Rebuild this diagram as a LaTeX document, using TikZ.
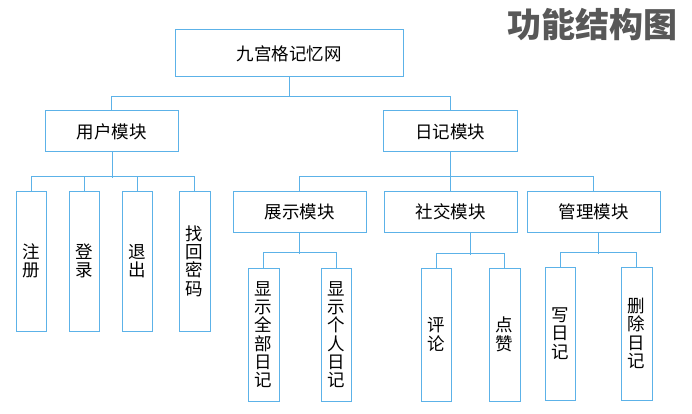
\documentclass[tikz,border=0pt]{standalone}
\usepackage{fontspec}
\setmainfont{Noto Sans CJK SC}
\usetikzlibrary{calc}
\definecolor{lineblue}{RGB}{92,178,232}
\definecolor{titlegray}{RGB}{88,88,88}
\tikzset{
  box/.style={draw=lineblue, line width=1pt, inner sep=0pt, anchor=center,
    font=\fontsize{17.5}{18.3}\selectfont, text=black},
  leaf/.style={box, align=center, text width=18pt},
  conn/.style={draw=lineblue, line width=1pt},
}
\begin{document}
\begin{tikzpicture}[x=1pt,y=-1pt]
\useasboundingbox (0,0) rectangle (692,414);
% title
\node[font=\fontsize{34}{36}\selectfont\bfseries, text=titlegray, anchor=center] (title) at (592,25) {功能结构图};
% root
\node[box, minimum width=228pt, minimum height=47pt] (root) at (289,53.5) {九宫格记忆网};
% level 2
\node[box, minimum width=133pt, minimum height=41pt] (user) at (111.5,131.5) {用户模块};
\node[box, minimum width=134pt, minimum height=41pt] (diary) at (450,131.5) {日记模块};
% user leaves
\node[leaf, minimum width=30pt, minimum height=140pt] (zc) at (31,261) {注\\册};
\node[leaf, minimum width=30pt, minimum height=140pt] (dl) at (84,261) {登\\录};
\node[leaf, minimum width=30pt, minimum height=140pt] (tc) at (137.5,261) {退\\出};
\node[leaf, minimum width=31pt, minimum height=140pt] (zh) at (194.5,261) {找\\回\\密\\码};
% diary sub-modules
\node[box, minimum width=133pt, minimum height=41pt] (show) at (299.5,211.5) {展示模块};
\node[box, minimum width=133pt, minimum height=41pt] (social) at (450.5,211.5) {社交模块};
\node[box, minimum width=133pt, minimum height=41pt] (manage) at (593.5,211.5) {管理模块};
% show leaves
\node[leaf, minimum width=31pt, minimum height=133pt] (qb) at (263.5,334.5) {显\\示\\全\\部\\日\\记};
\node[leaf, minimum width=30pt, minimum height=133pt] (gr) at (336,334.5) {显\\示\\个\\人\\日\\记};
% social leaves
\node[leaf, minimum width=30pt, minimum height=133pt] (pl) at (436,334.5) {评\\论};
\node[leaf, minimum width=31pt, minimum height=133pt] (dz) at (504.5,334.5) {点\\赞};
% manage leaves
\node[leaf, minimum width=30pt, minimum height=133pt] (xr) at (560,333.5) {写\\日\\记};
\node[leaf, minimum width=31pt, minimum height=133pt] (sc) at (636.5,333.5) {删\\除\\日\\记};
% connectors: root
\draw[conn] (root.south) -- ++(0,20);
\draw[conn] (user.north) -- ++(0,-14) -| (diary.north);
% user
\coordinate (um) at ($(zc.north)!0.5!(zh.north)$);
\draw[conn] (user.south -| um) -- ++(0,25);
\draw[conn] (zc.north) -- ++(0,-14) -| (zh.north);
\draw[conn] (dl.north) -- ++(0,-14);
\draw[conn] (tc.north) -- ++(0,-14);
% diary
\draw[conn] (diary.south) -- ++(0,25);
\draw[conn] (show.north) -- ++(0,-14) -| (manage.north);
\draw[conn] (social.north) -- ++(0,-14);
% show
\coordinate (sm) at ($(qb.north)!0.5!(gr.north)$);
\draw[conn] (show.south -| sm) -- ++(0,21);
\draw[conn] (qb.north) -- ++(0,-15) -| (gr.north);
% social
\coordinate (cm) at ($(pl.north)!0.5!(dz.north)$);
\draw[conn] (social.south -| cm) -- ++(0,22);
\draw[conn] (pl.north) -- ++(0,-14) -| (dz.north);
% manage
\coordinate (mm) at ($(xr.north)!0.5!(sc.north)$);
\draw[conn] (manage.south -| mm) -- ++(0,21);
\draw[conn] (xr.north) -- ++(0,-14) -| (sc.north);
\end{tikzpicture}
\end{document}
